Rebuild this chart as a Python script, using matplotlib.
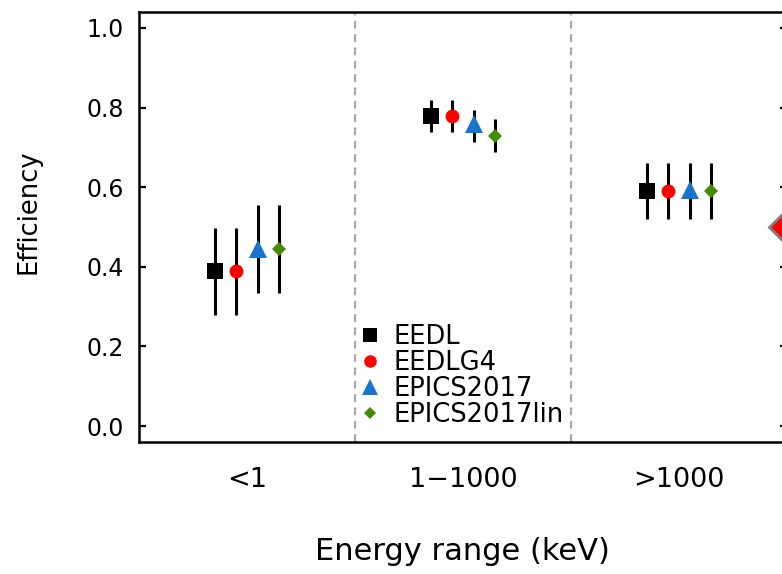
import matplotlib
matplotlib.use("Agg")
import matplotlib.pyplot as plt
from matplotlib.lines import Line2D
import numpy as np

# === DATOS ===
categorias = ["<1", "1\u22121000", ">1000"]
series = ["EEDL", "EEDLG4", "EPICS2017", "EPICS2017lin"]

eff_eedl = [0.389, 0.779, 0.591]
eff_eedlg4 = [0.389, 0.779, 0.591]
eff_epics = [0.446, 0.759, 0.594]
eff_epicslin = [0.444, 0.729, 0.591]

low_eedl = [0.279, 0.739, 0.520]
high_eedl = [0.498, 0.818, 0.662]
low_eedlg4 = [0.279, 0.739, 0.520]
high_eedlg4 = [0.498, 0.818, 0.662]
low_epics = [0.333, 0.714, 0.520]
high_epics = [0.555, 0.794, 0.662]
low_epicslin = [0.333, 0.688, 0.520]
high_epicslin = [0.555, 0.771, 0.662]

# punto de referencia cortado en el borde derecho
ref_x = [3.48]
ref_y = [0.50]

# === ESTILO ===
colores = ["black", "#FF0000", "#1874CD", "#458B00"]
marcadores = ["s", "o", "^", "D"]
tamanos = [11, 10, 13, 7]
offsets = [-0.15, -0.05, 0.05, 0.15]

fig = plt.figure(figsize=(7.82, 5.74), dpi=100)
ax = fig.add_axes([139 / 782, 132 / 574, 648 / 782, 430 / 574])

pos = np.arange(1, len(categorias) + 1)
valores = [eff_eedl, eff_eedlg4, eff_epics, eff_epicslin]
bajos = [low_eedl, low_eedlg4, low_epics, low_epicslin]
altos = [high_eedl, high_eedlg4, high_epics, high_epicslin]

for i in range(len(series)):
    x = pos + offsets[i]
    y = np.array(valores[i])
    yerr = [y - np.array(bajos[i]), np.array(altos[i]) - y]
    ax.errorbar(x, y, yerr=yerr, fmt="none", ecolor="black", elinewidth=2.2, capsize=0, zorder=2)
    ax.plot(x, y, linestyle="none", marker=marcadores[i], markersize=tamanos[i],
            color=colores[i], markeredgewidth=0, zorder=3)

for xv in [1.5, 2.5]:
    ax.axvline(xv, color="#A9A9A9", linestyle=(0, (3.5, 2.5)), linewidth=1.6, zorder=1)

ax.plot(ref_x, ref_y, linestyle="none", marker="D", markersize=14.5, markerfacecolor="#FF0000",
        markeredgecolor="#808080", markeredgewidth=2, clip_on=False, zorder=4)

ax.set_xlim(0.5, 3.5)
ax.set_ylim(-0.04, 1.04)
ax.set_xticks(pos)
ax.set_xticklabels(categorias, fontsize=19.5)
ax.set_yticks([0.0, 0.2, 0.4, 0.6, 0.8, 1.0])
ax.set_yticklabels(["0.0", "0.2", "0.4", "0.6", "0.8", "1.0"], fontsize=17)
ax.tick_params(axis="x", length=0, pad=18)
ax.tick_params(axis="y", direction="in", length=5, width=1.6, pad=11, left=True, right=True)
for s in ax.spines.values():
    s.set_linewidth(1.8)

fig.text(29 / 782, 1 - 212 / 574, "Efficiency", rotation=90, ha="center", va="center", fontsize=18.5)
fig.text(462 / 782, 1 - 560 / 574, "Energy range (keV)", ha="center", va="baseline", fontsize=22)

handles = [Line2D([], [], linestyle="none", marker=marcadores[i], color=colores[i],
                  markersize=tamanos[i] - 1, markeredgewidth=0) for i in range(len(series))]
ax.legend(handles, series, loc="upper left", bbox_to_anchor=(360 / 782, 1 - 324 / 574),
          bbox_transform=fig.transFigure, frameon=False, fontsize=18.5,
          handlelength=0.8, handletextpad=0.5, labelspacing=0.0, borderpad=0, borderaxespad=0)

fig.savefig("out.png", dpi=100)
